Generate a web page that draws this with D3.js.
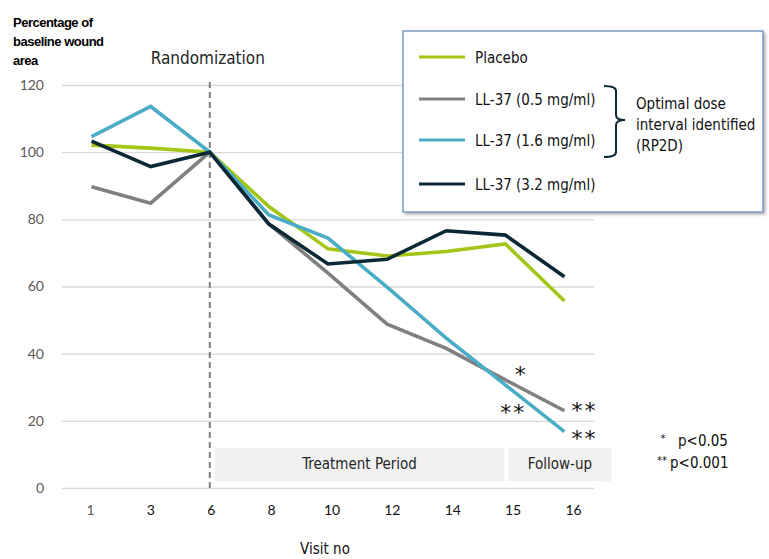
<!DOCTYPE html>
<html>
<head>
<meta charset="utf-8">
<script src="https://cdn.jsdelivr.net/npm/d3@7"></script>
<style>
  body { margin: 0; background: #fff; }
  .narrow { font-family: "Liberation Sans Narrow", "Arial Narrow", "DejaVu Sans Condensed", sans-serif; }
</style>
</head>
<body>
<div id="chart"></div>
<script>
// visits and series values (percentage of baseline wound area)
let visits = ["1", "3", "6", "8", "10", "12", "14", "15", "16"];
let placebo = [102.1, 101.2, 100, 83.8, 71.2, 69.1, 70.4, 72.7, 55.7];
let dose05 = [89.7, 84.8, 100, 78.6, 64.0, 48.8, 41.6, 32.2, 23.0];
let dose16 = [104.6, 113.6, 100, 81.3, 74.4, 59.8, 44.6, 30.7, 16.8];
let dose32 = [103.3, 95.7, 100, 78.6, 66.7, 68.1, 76.6, 75.3, 62.9];
let yTicks = [0, 20, 40, 60, 80, 100, 120];
let seriesNames = ["Placebo", "LL-37 (0.5 mg/ml)", "LL-37 (1.6 mg/ml)", "LL-37 (3.2 mg/ml)"];
let seriesColors = ["#a3c617", "#808080", "#4bacc6", "#0b2835"];

let svgWidth = 769;
let svgHeight = 559;

let margin = { top: 85, right: 175, bottom: 71, left: 62 };
let width = svgWidth - margin.left - margin.right;
let height = svgHeight - margin.top - margin.bottom;

let svg = d3.select("#chart")
    .append("svg")
    .attr("width", svgWidth)
    .attr("height", svgHeight);

let chartGroup = svg.append("g")
    .attr("transform", `translate(${margin.left}, ${margin.top})`);

let xScale = d3.scalePoint()
    .domain(visits)
    .range([0, width])
    .padding(0.5);

// the visit labels sit a little off the data points in the original
let xLabelScale = d3.scalePoint()
    .domain(visits)
    .range([28, 511]);

let yScale = d3.scaleLinear()
    .domain([0, 120])
    .range([height, 0]);

// gridlines + y labels
let leftAxis = d3.axisLeft(yScale)
    .tickValues(yTicks)
    .tickSize(-width)
    .tickPadding(18);

let yAxis = chartGroup.append("g").call(leftAxis);
yAxis.select(".domain").remove();
yAxis.selectAll("line").attr("stroke", "#d9d9d9").attr("stroke-width", 1.3);
yAxis.selectAll("text")
    .attr("fill", "#595959")
    .style("font-family", "Lato, 'Open Sans', sans-serif")
    .style("font-size", "14px");

// x labels
let bottomAxis = d3.axisBottom(xLabelScale).tickSize(0).tickPadding(17);
let xAxis = chartGroup.append("g")
    .attr("transform", `translate(0, ${height})`)
    .call(bottomAxis);
xAxis.select(".domain").remove();
xAxis.selectAll("text")
    .attr("fill", (d, i) => i === 0 ? "#595959" : "#111")
    .style("font-family", "Lato, 'Open Sans', sans-serif")
    .style("font-size", "14px");

// period boxes
let periods = [
    { label: "Treatment Period", from: "6", to: "15", x0: 5, x1: -1 },
    { label: "Follow-up", from: "15", to: "16", x0: 3, x1: 47 }
];
let periodY = yScale(12);
let periodH = yScale(2) - yScale(12);
periods.forEach(p => {
    let x0 = xScale(p.from) + p.x0;
    let x1 = xScale(p.to) + p.x1;
    chartGroup.append("rect")
        .attr("x", x0).attr("y", periodY)
        .attr("width", x1 - x0).attr("height", periodH)
        .attr("fill", "#f1f1f1");
    chartGroup.append("text")
        .attr("class", "narrow")
        .attr("x", (x0 + x1) / 2)
        .attr("y", periodY + periodH / 2 + 5)
        .attr("text-anchor", "middle")
        .attr("fill", "#262626")
        .style("font-size", "15px")
        .text(p.label);
});

// randomization line
chartGroup.append("line")
    .attr("x1", xScale("6")).attr("x2", xScale("6"))
    .attr("y1", -3).attr("y2", height)
    .attr("stroke", "#7f7f7f")
    .attr("stroke-width", 2)
    .attr("stroke-dasharray", "6,4");

chartGroup.append("text")
    .attr("class", "narrow")
    .attr("x", xScale("6") - 2)
    .attr("y", -21)
    .attr("text-anchor", "middle")
    .attr("fill", "#262626")
    .style("font-size", "17px")
    .text("Randomization");

// lines, drawn gray, green, blue, dark
let seriesData = [placebo, dose05, dose16, dose32];
let drawOrder = [1, 0, 2, 3];
let line = d3.line()
    .x((d, i) => xScale(visits[i]))
    .y(d => yScale(d));

drawOrder.forEach(k => {
    chartGroup.append("path")
        .datum(seriesData[k])
        .attr("fill", "none")
        .attr("stroke", seriesColors[k])
        .attr("stroke-width", 3.6)
        .attr("stroke-linejoin", "miter")
        .attr("d", line);
});

// significance marks
let marks = [
    { visit: "15", value: dose05[7], text: "*", dx: 16, dy: 2 },
    { visit: "15", value: dose16[7], text: "**", dx: 8, dy: 35 },
    { visit: "16", value: dose05[8], text: "**", dx: 20, dy: 7 },
    { visit: "16", value: dose16[8], text: "**", dx: 20, dy: 14 }
];
marks.forEach(m => {
    chartGroup.append("text")
        .attr("x", xScale(m.visit) + m.dx)
        .attr("y", yScale(m.value) + m.dy)
        .attr("text-anchor", "middle")
        .attr("fill", "#111")
        .style("font-family", "'DejaVu Sans', sans-serif")
        .style("font-size", "22px")
        .style("letter-spacing", "2px")
        .text(m.text);
});

// y title
let yTitle = svg.append("text")
    .attr("x", 13)
    .attr("y", 27)
    .attr("fill", "#000")
    .style("font-family", "'Liberation Sans', Arial, sans-serif")
    .style("font-weight", "bold")
    .style("font-size", "13px")
    .style("letter-spacing", "-0.5px");
["Percentage of", "baseline wound", "area"].forEach((t, i) => {
    yTitle.append("tspan").attr("x", 13).attr("dy", i === 0 ? 0 : 19).text(t);
});

svg.append("text")
    .attr("class", "narrow")
    .attr("x", 325)
    .attr("y", 554)
    .attr("text-anchor", "middle")
    .attr("fill", "#111")
    .style("font-size", "15px")
    .text("Visit no");

// legend
let defs = svg.append("defs");
let shadow = defs.append("filter").attr("id", "shadow")
    .attr("x", "-5%").attr("y", "-5%").attr("width", "115%").attr("height", "120%");
shadow.append("feDropShadow")
    .attr("dx", 2).attr("dy", 2).attr("stdDeviation", 1.5)
    .attr("flood-color", "#000").attr("flood-opacity", 0.3);

let legend = svg.append("g").attr("transform", "translate(403, 31)");
legend.append("rect")
    .attr("width", 360).attr("height", 181)
    .attr("fill", "#fff")
    .attr("stroke", "#5b82b8")
    .attr("stroke-width", 1.2)
    .attr("filter", "url(#shadow)");

let legendY = [26, 68, 109, 153];
seriesNames.forEach((name, i) => {
    let row = legend.append("g").attr("transform", `translate(0, ${legendY[i]})`);
    row.append("line")
        .attr("x1", 16).attr("x2", 62)
        .attr("stroke", seriesColors[i])
        .attr("stroke-width", 3);
    row.append("text")
        .attr("class", "narrow")
        .attr("x", 72).attr("y", 6)
        .attr("fill", "#111")
        .style("font-size", "15px")
        .text(name);
});

legend.append("path")
    .attr("d", "M201,55 Q213,55 213,60 L213,84 Q213,89 222,89 Q213,89 213,94 L213,121 Q213,126 201,126")
    .attr("fill", "none")
    .attr("stroke", "#0b2835")
    .attr("stroke-width", 2);

let optText = legend.append("text")
    .attr("class", "narrow")
    .attr("x", 233).attr("y", 78)
    .attr("fill", "#111")
    .style("font-size", "15px");
["Optimal dose", "interval identified", "(RP2D)"].forEach((t, i) => {
    optText.append("tspan").attr("x", 233).attr("dy", i === 0 ? 0 : 21).text(t);
});

// p-value key
let keys = [["*", "p<0.05", 663, 678, 446], ["**", "p<0.001", 662, 670, 468]];
keys.forEach(k => {
    svg.append("text")
        .attr("x", k[2]).attr("y", k[4] - 4)
        .attr("text-anchor", "middle")
        .attr("fill", "#111")
        .style("font-family", "'DejaVu Sans', sans-serif")
        .style("font-size", "10px")
        .text(k[0]);
    svg.append("text")
        .attr("class", "narrow")
        .attr("x", k[3]).attr("y", k[4])
        .attr("fill", "#111")
        .style("font-size", "15px")
        .text(k[1]);
});
</script>
</body>
</html>
